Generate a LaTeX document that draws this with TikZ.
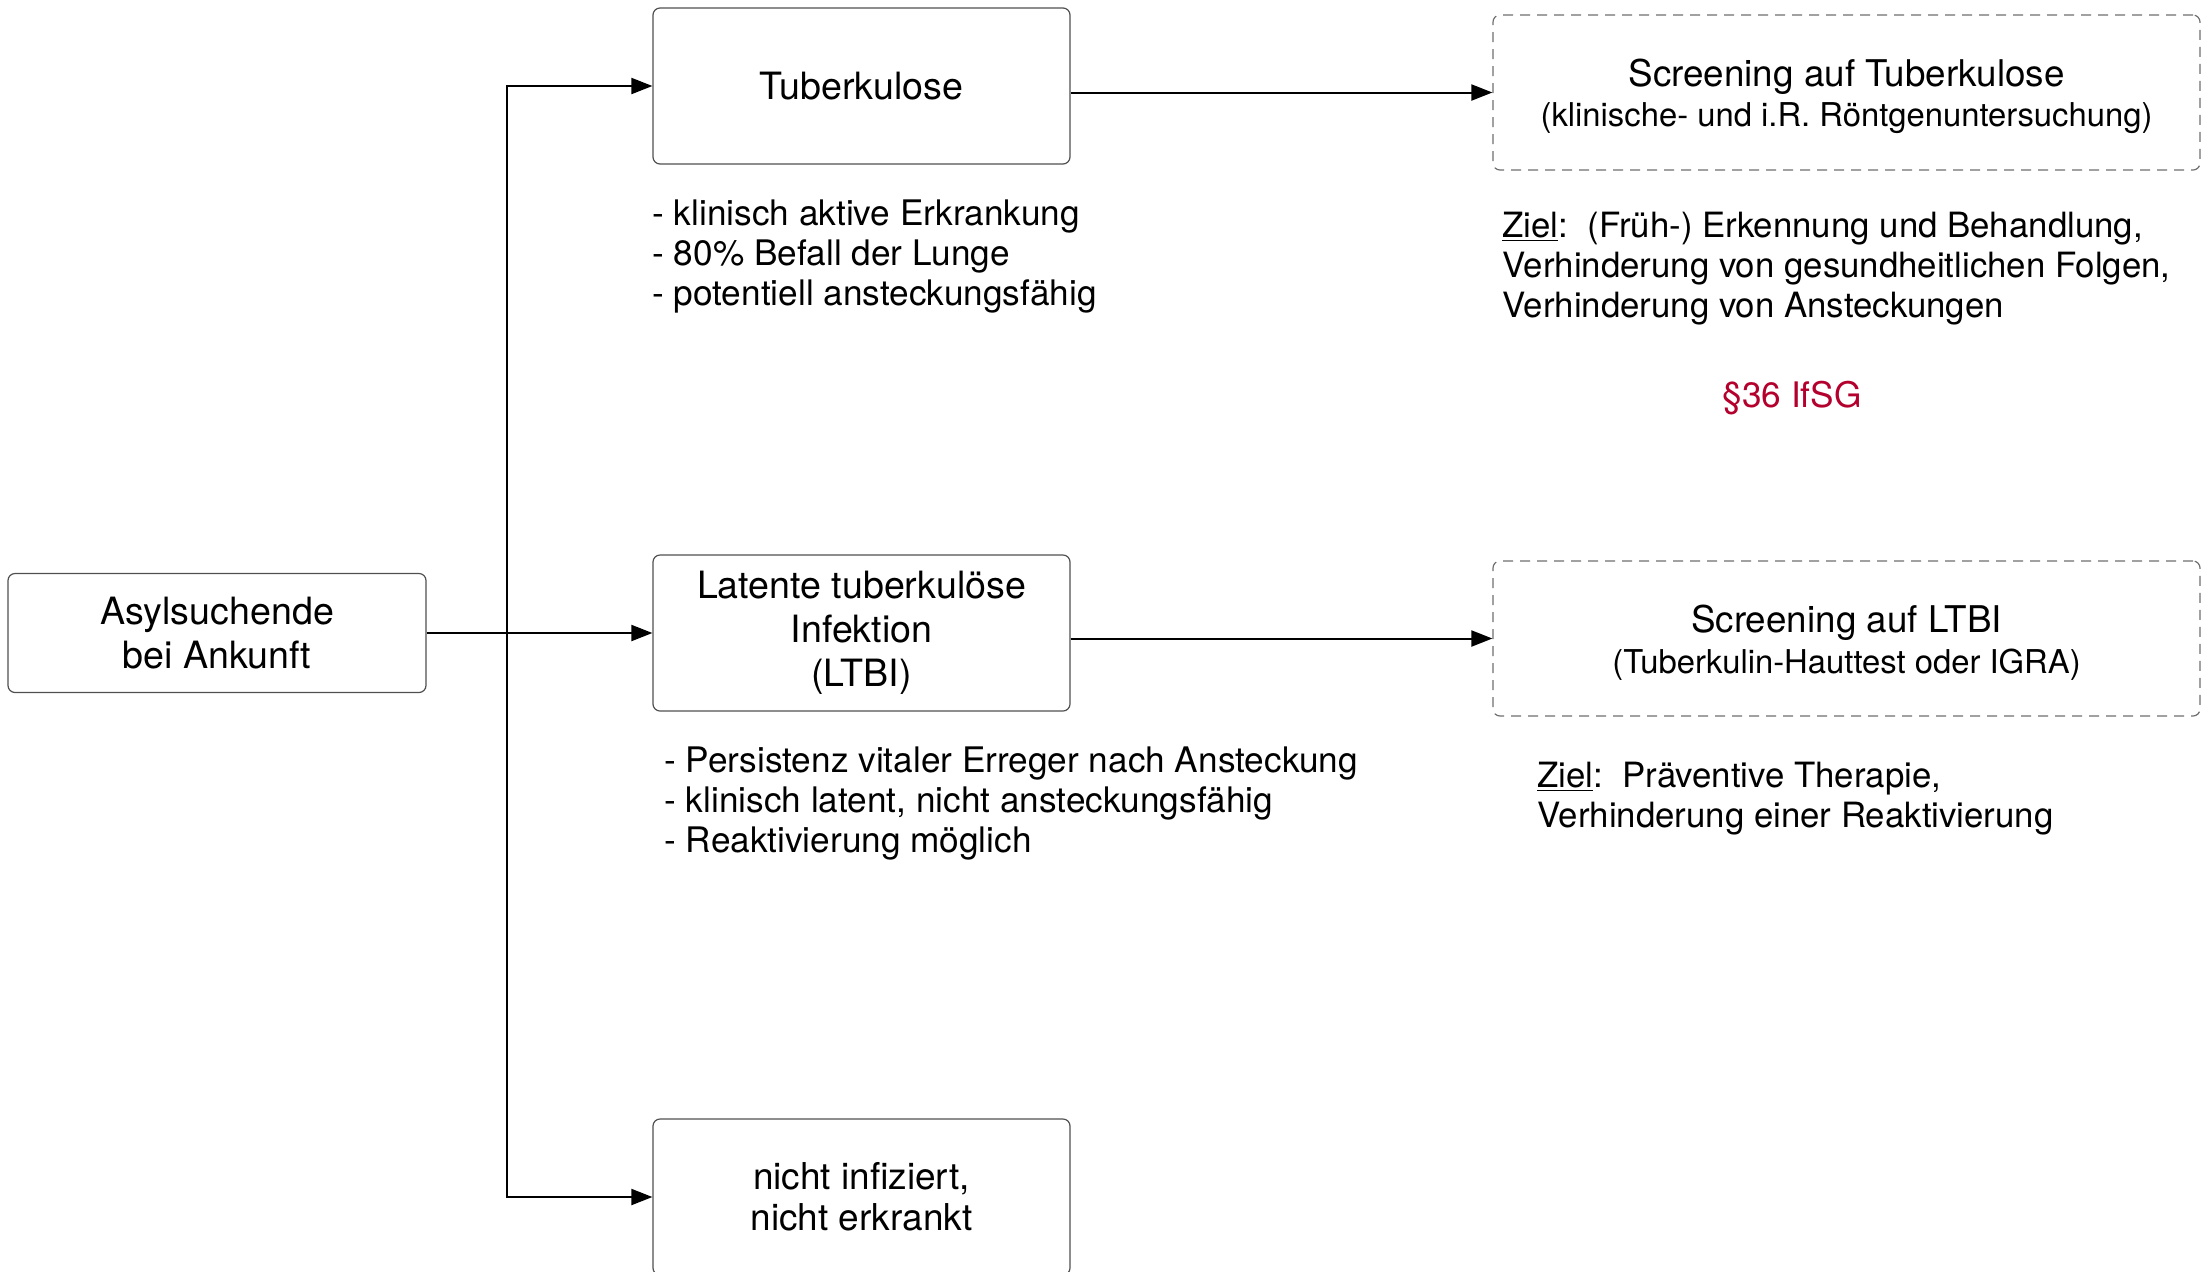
\documentclass[tikz,border=0pt]{standalone}
\usepackage{fontspec}
\setmainfont{TeX Gyre Heros}
\usetikzlibrary{arrows.meta}
\definecolor{boxgray}{RGB}{80,80,80}
\definecolor{dashgray}{RGB}{110,110,110}
\definecolor{lawred}{RGB}{180,0,45}
\begin{document}
\begin{tikzpicture}[x=0.5pt,y=-0.5pt,
  box/.style={draw=boxgray, line width=0.6pt, rounded corners=3.5pt,
    minimum width=208.5pt, minimum height=78pt, inner sep=0pt, align=center,
    font=\fontsize{18.8}{22}\selectfont},
  screen/.style={draw=dashgray, dash pattern=on 5pt off 3.5pt, line width=0.6pt,
    rounded corners=3.5pt, minimum width=353.5pt, minimum height=77.5pt,
    inner sep=0pt, align=center, font=\fontsize{18.4}{20.4}\selectfont},
  conn/.style={line width=1pt, -{Triangle[length=10.5pt,width=8pt]}},
  body/.style={font=\fontsize{17.6}{20}\selectfont, align=left, inner sep=0pt, anchor=base west}
]
\useasboundingbox (0,0) rectangle (2202,1271);
\clip (0,0) rectangle (2202,1271);

\node[box, minimum width=209pt, minimum height=59.5pt] (A) at (217,633) {Asylsuchende\\bei Ankunft};
\node[box] (T) at (861.5,86) {Tuberkulose};
\node[box] (L) at (861.5,633) {Latente tuberkulöse\\Infektion\\(LTBI)};
\node[box, font=\fontsize{18.5}{20.5}\selectfont] (N) at (861.5,1197) {nicht infiziert,\\nicht erkrankt};

\node[screen] (S1) at (1846.5,92.5) {\rule{0pt}{17.6pt}Screening auf Tuberkulose\\{\fontsize{16.4}{20.4}\selectfont (klinische- und i.R. Röntgenuntersuchung)}};
\node[screen] (S2) at (1846.5,638.5) {\rule{0pt}{17.6pt}Screening auf LTBI\\{\fontsize{16.4}{20.4}\selectfont (Tuberkulin-Hauttest oder IGRA)}};

\coordinate (J) at (507,633);
\draw[conn] (A.east) -- (L.west);
\draw[conn] (J) |- (T.west);
\draw[conn] (J) |- (N.west);
\draw[conn] (T.east |- S1.west) -- (S1.west);
\draw[conn] (L.east |- S2.west) -- (S2.west);

\node[body] (B1) at (652,305) {- klinisch aktive Erkrankung\\- 80\% Befall der Lunge\\- potentiell ansteckungsfähig};
\node[body] (B2) at (664,852) {- Persistenz vitaler Erreger nach Ansteckung\\- klinisch latent, nicht ansteckungsfähig\\- Reaktivierung möglich};
\node[body, font=\fontsize{17.4}{20}\selectfont] (Z1) at (1502,317) {\underline{Ziel}:\ \ (Früh-) Erkennung und Behandlung,\\Verhinderung von gesundheitlichen Folgen,\\Verhinderung von Ansteckungen};
\node[body, font=\fontsize{17.4}{20}\selectfont] (Z2) at (1537,827) {\underline{Ziel}:\ \ Präventive Therapie,\\Verhinderung einer Reaktivierung};
\node[font=\fontsize{17.6}{20}\selectfont, text=lawred, inner sep=0pt, anchor=base] (P) at (1792,407) {§36 IfSG};
\end{tikzpicture}
\end{document}
